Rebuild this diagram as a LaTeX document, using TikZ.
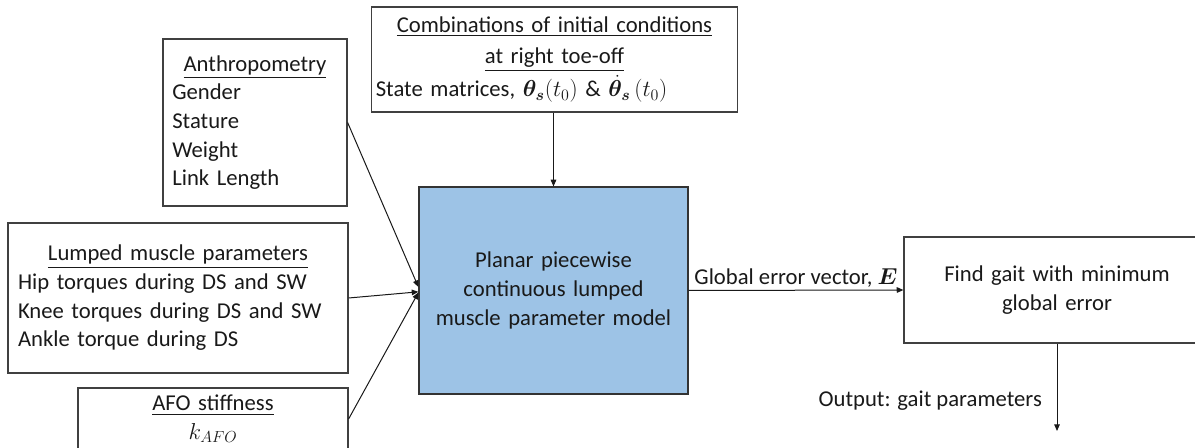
\documentclass[tikz,border=0pt]{standalone}
\usepackage{amsmath}
\usepackage{bm}
\usepackage{fontspec}
\setmainfont{Carlito}
\usetikzlibrary{arrows.meta}
\setlength{\parindent}{0pt}
\definecolor{blueFill}{HTML}{9DC3E6}
% a full-width centred line inside a left-aligned node
\newcommand{\ctrline}[1]{\makebox[\hsize][c]{#1}}
\begin{document}
\begin{tikzpicture}[x=0.75pt,y=-0.75pt,
  txt/.style={font=\fontsize{17}{21.5}\selectfont, text=black!90},
  box/.style={draw=black!75, line width=0.9pt, inner ysep=0pt, txt},
  model/.style={box, fill=blueFill, draw=black!80, align=center},
  link/.style={draw=black!90, line width=0.75pt, -{Triangle[length=5pt,width=4.2pt]}},
]
\useasboundingbox (0,0) rectangle (1195,448);

% input boxes
\node[box, text width=124pt, inner xsep=7pt, minimum height=125.25pt, align=left]
  (anthro) at (255,122.5)
  {\ctrline{\underline{Anthropometry}}\\Gender\\Stature\\Weight\\Link Length};

\node[box, text width=240pt, inner xsep=7.5pt, minimum height=112.5pt, align=left]
  (lumped) at (178,298)
  {\ctrline{\underline{Lumped muscle parameters}}\\Hip torques during DS and SW\\Knee torques during DS and SW\\Ankle torque during DS};

\node[box, text width=192.5pt, inner xsep=5pt, minimum height=46.5pt, align=center]
  (afo) at (213,419)
  {\underline{AFO stiffness}\\$k_{AFO}$};

\node[box, font=\fontsize{17}{23.5}\selectfont, text width=268pt, inner xsep=3pt, minimum height=78.75pt, align=center]
  (init) at (554.5,59.5)
  {\underline{Combinations of initial conditions}\\\underline{at right toe-off}\\[1.5pt]\makebox[\hsize][l]{State matrices, $\bm{\theta_s}(t_0)$ \& $\dot{\bm{\theta}}_{\bm{s}}\,(t_0)$}};

% model and result boxes
\node[model, text width=190pt, inner xsep=5.875pt, minimum height=155.25pt]
  (model) at (553.5,290.5)
  {Planar piecewise\\continuous lumped\\muscle parameter model};

\node[box, text width=220pt, inner xsep=4.75pt, minimum height=79.5pt, align=center]
  (find) at (1057,290)
  {Find gait with minimum\\global error};

\coordinate (outend) at (1057,431);

% connectors
\draw[link] (anthro.east) -- ([yshift=2.6pt]model.west);
\draw[link] (lumped.east) -- ([yshift=-1pt]model.west);
\draw[link] (afo.east) -- ([yshift=-1.5pt]model.west);
\draw[link] (init.south -| model.north) -- (model.north);
\draw[link] (model.east) -- (find.west)
  node[midway, anchor=base, yshift=4pt, txt, inner sep=0pt] {Global error vector, $\bm{E}$};
\draw[link] (find.south) -- (outend)
  node[pos=0.65, left=11pt, txt, inner sep=0pt] {Output: gait parameters};
\end{tikzpicture}
\end{document}
